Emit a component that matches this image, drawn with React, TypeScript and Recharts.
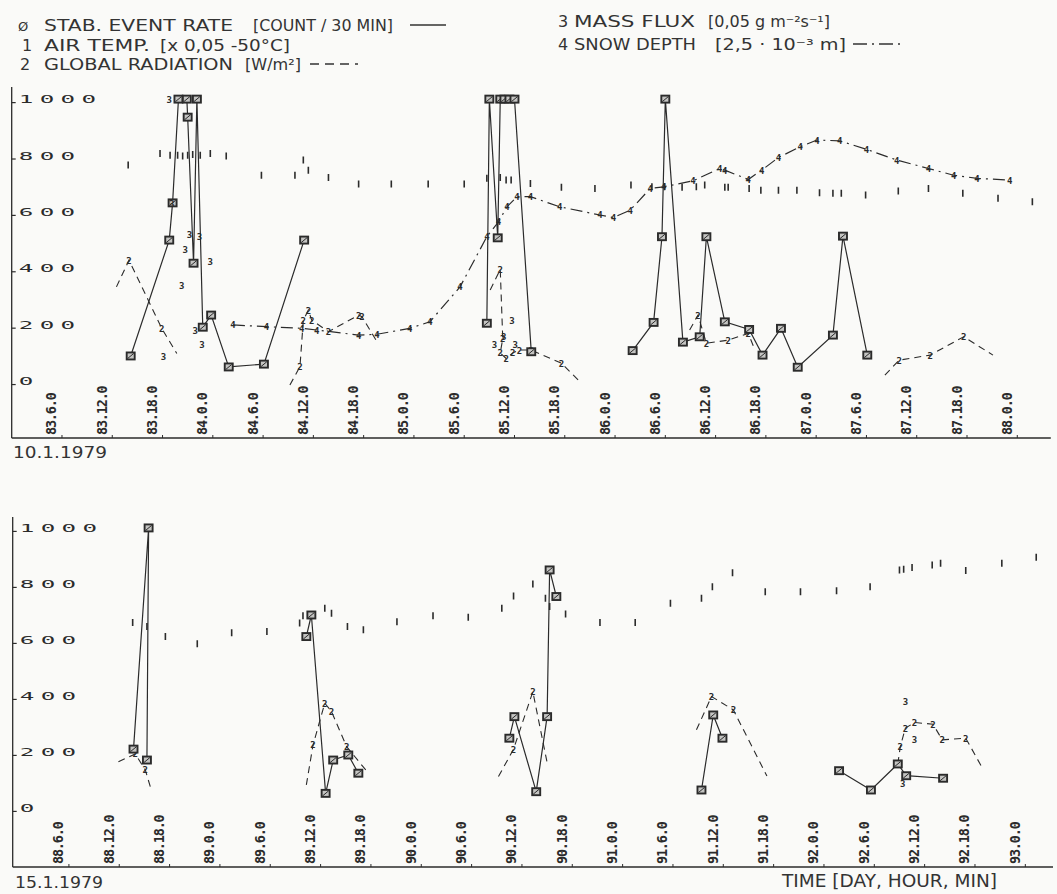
import React from "react";
import { LineChart, Line, XAxis, YAxis } from "recharts";

type Pt = [number, number];

const INK = "#2b2b2b";
const PAPER = "#fafaf8";
const MONO = "'DejaVu Sans Mono', monospace";
const SANS = "'DejaVu Sans', sans-serif";

// hours after the first day shown (day 83 resp. 88, 0:00)
const tickHours = [6, 12, 18, 24, 30, 36, 42, 48, 54, 60, 66, 72, 78, 84, 90, 96, 102, 108, 114, 120];
const topTickLabels = [
  "83.6.0", "83.12.0", "83.18.0", "84.0.0", "84.6.0", "84.12.0", "84.18.0", "85.0.0", "85.6.0", "85.12.0",
  "85.18.0", "86.0.0", "86.6.0", "86.12.0", "86.18.0", "87.0.0", "87.6.0", "87.12.0", "87.18.0", "88.0.0",
];
const bottomTickLabels = [
  "88.6.0", "88.12.0", "88.18.0", "89.0.0", "89.6.0", "89.12.0", "89.18.0", "90.0.0", "90.6.0", "90.12.0",
  "90.18.0", "91.0.0", "91.6.0", "91.12.0", "91.18.0", "92.0.0", "92.6.0", "92.12.0", "92.18.0", "93.0.0",
];
const yTicks = [0, 200, 400, 600, 800, 1000];

// ---- 10.1.1979 ----
const topRate: Pt[][] = [
  [[14.2, 89], [18.8, 500], [19.2, 632], [19.9, 1000], [20.9, 1000], [21.0, 936], [21.7, 418], [22.1, 1000],
    [22.8, 191], [23.8, 234], [25.9, 50], [30.1, 60], [34.9, 500]],
  [[56.7, 205], [57.0, 1000], [58.0, 508], [58.3, 1000], [58.8, 1000], [59.4, 1000], [60.0, 1000], [62.0, 104]],
  [[74.1, 108], [76.6, 208], [77.6, 512], [78.0, 1000], [80.1, 138], [82.1, 157], [82.9, 512], [85.1, 210],
    [88.0, 183], [89.6, 92], [91.8, 187], [93.8, 49], [98.0, 163], [99.2, 514], [102.1, 92]],
];
const topRadiation: Pt[][] = [
  [[12.5, 334], [14.0, 429], [17.9, 187], [19.7, 98]],
  [[33.2, -14], [34.4, 51], [34.8, 216], [35.4, 252], [35.8, 216], [37.8, 175], [41.4, 234], [41.8, 228], [43.7, 134]],
  [[57.1, 323], [58.3, 396], [58.6, 150], [58.3, 100], [59.0, 80], [59.8, 100], [60.6, 110], [62.0, 110], [65.6, 63], [68.0, -8]],
  [[80.9, 181], [81.9, 234], [82.9, 134], [85.5, 145], [87.9, 169], [88.7, 110]],
  [[104.2, 21], [105.9, 74], [109.6, 92], [113.6, 157], [117.1, 92]],
];
const topFlux: Pt[] = [
  [18.8, 1000], [18.1, 86], [19.1, 630], [20.3, 340], [20.7, 465], [21.2, 521], [22.4, 512], [23.7, 423],
  [21.9, 181], [22.7, 131], [57.6, 130], [58.7, 157], [59.7, 216], [60.1, 130],
];
const topTemp: Pt[] = [
  [13.9, 766], [17.7, 807], [18.9, 801], [19.8, 801], [20.4, 798], [21.0, 801], [21.6, 804], [22.5, 801],
  [23.7, 807], [25.6, 798], [29.8, 730], [33.8, 730], [34.8, 784], [35.4, 748], [37.8, 722], [41.4, 699],
  [45.3, 699], [49.7, 699], [54.0, 699], [56.7, 719], [58.3, 722], [59.0, 713], [59.6, 713], [61.9, 701],
  [65.6, 687], [69.6, 683], [73.9, 695], [76.4, 689], [77.9, 689], [80.0, 687], [81.7, 689], [82.7, 695],
  [85.1, 687], [85.5, 687], [88.0, 683], [89.4, 677], [91.5, 677], [93.7, 677], [96.4, 668], [98.0, 666],
  [99.0, 666], [101.9, 660], [105.8, 674], [109.4, 683], [113.5, 666], [117.7, 648], [121.8, 636],
];
const topSnow: Pt[][] = [
  [[26.4, 199], [30.4, 193], [34.6, 187], [36.4, 181], [41.4, 163], [43.6, 166], [47.5, 187], [49.9, 210],
    [53.5, 334], [56.7, 512], [58.1, 565], [59.1, 618], [60.3, 654], [61.9, 654], [65.4, 618], [70.2, 589],
    [71.8, 580], [73.8, 606], [76.2, 683], [77.8, 689], [81.3, 710], [84.5, 754], [85.1, 748], [87.9, 715],
    [89.5, 748], [91.5, 793], [94.1, 831], [96.1, 855], [98.8, 852], [102.0, 822], [105.6, 784], [109.4, 754],
    [112.4, 730], [115.2, 719], [119.1, 713]],
];

// ---- 15.1.1979 ----
const bottomRate: Pt[][] = [
  [[13.7, 210], [15.5, 1000], [15.3, 171]],
  [[34.3, 612], [34.9, 689], [36.6, 52], [37.5, 171], [39.3, 189], [40.5, 124]],
  [[58.5, 249], [59.1, 326], [61.7, 58], [63.0, 326], [63.3, 850], [64.1, 755]],
  [[81.4, 64], [82.8, 332], [83.9, 249]],
  [[97.8, 133], [101.6, 64], [104.8, 157], [105.8, 115], [110.2, 106]],
];
const bottomRadiation: Pt[][] = [
  [[11.9, 165], [13.9, 193], [15.1, 136], [15.7, 76]],
  [[34.3, 82], [35.1, 225], [36.5, 374], [37.3, 344], [39.1, 219], [41.7, 124]],
  [[57.2, 112], [59.0, 210], [61.3, 415], [63.0, 162]],
  [[80.8, 279], [82.6, 398], [85.2, 350], [89.2, 114]],
  [[104.8, 157], [105.1, 219], [105.7, 285], [106.8, 305], [109.0, 299], [110.1, 243], [112.9, 249], [115.0, 136]],
];
const bottomFlux: Pt[] = [[105.7, 380], [106.8, 243], [105.4, 88]];
const bottomTemp: Pt[] = [
  [13.6, 662], [15.3, 648], [17.5, 612], [21.3, 586], [25.4, 626], [29.6, 630], [33.5, 660], [33.9, 686],
  [36.5, 713], [37.3, 695], [39.2, 648], [41.1, 636], [45.1, 665], [49.4, 686], [53.6, 681], [57.6, 713],
  [59.0, 757], [61.3, 800], [62.8, 749], [63.3, 719], [65.2, 693], [69.3, 662], [73.5, 662], [77.7, 731],
  [81.4, 749], [82.7, 790], [85.1, 840], [89.0, 772], [93.2, 772], [97.5, 776], [101.5, 790], [105.0, 850],
  [105.5, 852], [106.5, 859], [108.9, 868], [109.9, 874], [112.9, 848], [117.2, 874], [121.3, 895],
];
const bottomSnow: Pt[][] = [];

const rows = (pts: Pt[]) => pts.map(([h, v]) => ({ h, v }));

const RateMark = (p: any) =>
  p.cx == null ? <g key={p.index} /> : (
    <g key={`r${p.index}`}>
      <rect x={p.cx - 4} y={p.cy - 3.5} width={8} height={7} fill="#c4c4c2" stroke={INK} strokeWidth={1.9} />
      <line x1={p.cx - 3} y1={p.cy + 2.5} x2={p.cx + 3} y2={p.cy - 2.5} stroke={INK} strokeWidth={1} />
    </g>
  );

const TempMark = (p: any) =>
  p.cx == null ? <g key={p.index} /> : (
    <line key={`t${p.index}`} x1={p.cx} x2={p.cx} y1={p.cy - 3.5} y2={p.cy + 3.5} stroke={INK} strokeWidth={1.6} />
  );

const charMark = (ch: string, skipEnds: boolean, len: number) => (p: any) => {
  if (p.cx == null || (skipEnds && (p.index === 0 || p.index === len - 1))) return <g key={`${ch}${p.index}`} />;
  return (
    <text key={`${ch}${p.index}`} x={p.cx} y={p.cy + 3.5} textAnchor="middle" fontFamily={MONO}
      fontWeight="bold" fontSize={9} fill={INK}>{ch}</text>
  );
};

function XTick(props: any) {
  const { x, payload, labels, axisY } = props;
  const label = labels[tickHours.indexOf(payload.value)];
  return (
    <g>
      <line x1={x} x2={x} y1={axisY} y2={axisY - 3} stroke={INK} strokeWidth={1} />
      <text transform={`translate(${x - 5.5}, ${axisY - 3}) rotate(-90)`} fontFamily={MONO} fontWeight="bold"
        fontSize={13.5} letterSpacing={-1.2} fill={INK}>{label}</text>
    </g>
  );
}

function YTick(props: any) {
  const { y, payload, plotLeft } = props;
  return (
    <g>
      <line x1={plotLeft} x2={plotLeft + 4} y1={y + 3.5} y2={y + 3.5} stroke={INK} strokeWidth={1.2} />
      <text transform={`translate(${plotLeft + 7}, ${y + 4}) scale(2.2, 1)`} fontFamily={MONO}
        fontSize={11} letterSpacing={2.9} fill={INK}>{payload.value}</text>
    </g>
  );
}

type PanelProps = {
  top: number;
  height: number;
  margin: { top: number; right: number; bottom: number; left: number };
  xDomain: [number, number];
  yDomain: [number, number];
  tickLabels: string[];
  rate: Pt[][];
  radiation: Pt[][];
  flux: Pt[];
  temp: Pt[];
  snow: Pt[][];
};

function Panel({ top, height, margin, xDomain, yDomain, tickLabels, rate, radiation, flux, temp, snow }: PanelProps) {
  // axes take 1px each, taken off the outer margins so the plot box stays where it was measured
  const axisY = height - margin.bottom;
  const plotLeft = margin.left;
  const m = { top: margin.top, right: margin.right, bottom: margin.bottom - 1, left: margin.left - 1 };
  return (
    <div style={{ position: "absolute", left: 0, top }}>
      <LineChart width={1057} height={height} margin={m}>
        <XAxis dataKey="h" type="number" domain={xDomain} allowDataOverflow ticks={tickHours} interval={0}
          height={1} tickLine={false} axisLine={{ stroke: INK, strokeWidth: 1.3 }}
          tick={(p: any) => <XTick {...p} labels={tickLabels} axisY={axisY} />} />
        <YAxis type="number" domain={yDomain} allowDataOverflow ticks={yTicks} interval={0} width={1}
          tickLine={false} axisLine={{ stroke: INK, strokeWidth: 1.3 }}
          tick={(p: any) => <YTick {...p} plotLeft={plotLeft} />} />
        {snow.map((seg, i) => (
          <Line key={`s${i}`} data={rows(seg)} dataKey="v" stroke={INK} strokeWidth={1.2}
            strokeDasharray="12 5 2 5" dot={charMark("4", false, seg.length)} activeDot={false}
            isAnimationActive={false} />
        ))}
        {radiation.map((seg, i) => (
          <Line key={`g${i}`} data={rows(seg)} dataKey="v" stroke={INK} strokeWidth={1.1}
            strokeDasharray="7 5" dot={charMark("2", true, seg.length)} activeDot={false}
            isAnimationActive={false} />
        ))}
        {rate.map((seg, i) => (
          <Line key={`r${i}`} data={rows(seg)} dataKey="v" stroke={INK} strokeWidth={1.2}
            dot={RateMark} activeDot={false} isAnimationActive={false} />
        ))}
        <Line data={rows(temp)} dataKey="v" stroke="none" dot={TempMark} activeDot={false} isAnimationActive={false} />
        <Line data={rows(flux)} dataKey="v" stroke="none" dot={charMark("3", false, flux.length)}
          activeDot={false} isAnimationActive={false} />
      </LineChart>
    </div>
  );
}

function Legend() {
  const t = { fontFamily: SANS, fontSize: 16, fill: "#333" } as const;
  return (
    <svg width={1057} height={894} style={{ position: "absolute", left: 0, top: 0 }}>
      <text x={18} y={31} {...t} fontSize={13}>Ø</text>
      <text x={44} y={31} {...t} textLength={189} lengthAdjust="spacingAndGlyphs">STAB. EVENT RATE</text>
      <text x={253} y={31} {...t} textLength={140} lengthAdjust="spacingAndGlyphs">[COUNT / 30 MIN]</text>
      <line x1={410} x2={446} y1={25} y2={25} stroke="#333" strokeWidth={1.3} />

      <text x={22} y={51} {...t}>1</text>
      <text x={44} y={51} {...t} textLength={106} lengthAdjust="spacingAndGlyphs">AIR TEMP.</text>
      <text x={160} y={51} {...t} textLength={130} lengthAdjust="spacingAndGlyphs">[x 0,05  -50°C]</text>

      <text x={20} y={70} {...t}>2</text>
      <text x={44} y={70} {...t} textLength={189} lengthAdjust="spacingAndGlyphs">GLOBAL RADIATION</text>
      <text x={245} y={70} {...t} textLength={56} lengthAdjust="spacingAndGlyphs">[W/m²]</text>
      <line x1={310} x2={358} y1={64} y2={64} stroke="#333" strokeWidth={1.3} strokeDasharray="9 6" />

      <text x={558} y={27} {...t}>3</text>
      <text x={574} y={27} {...t} textLength={121} lengthAdjust="spacingAndGlyphs">MASS FLUX</text>
      <text x={708} y={27} {...t} textLength={122} lengthAdjust="spacingAndGlyphs">[0,05 g m⁻²s⁻¹]</text>

      <text x={558} y={50} {...t}>4</text>
      <text x={574} y={50} {...t} textLength={122} lengthAdjust="spacingAndGlyphs">SNOW DEPTH</text>
      <text x={715} y={50} {...t} textLength={131} lengthAdjust="spacingAndGlyphs">[2,5 · 10⁻³ m]</text>
      <line x1={853} x2={904} y1={44} y2={44} stroke="#333" strokeWidth={1.3} strokeDasharray="14 5 2 5" />

      <text x={13} y={458} {...t} textLength={94} lengthAdjust="spacingAndGlyphs">10.1.1979</text>
      <text x={15} y={888} {...t} textLength={88} lengthAdjust="spacingAndGlyphs">15.1.1979</text>
      <text x={782} y={887} {...t} fontSize={18} textLength={215} lengthAdjust="spacingAndGlyphs">TIME [DAY, HOUR, MIN]</text>
    </svg>
  );
}

export default function App() {
  return (
    <div style={{ position: "absolute", left: 0, top: 0, width: 1057, height: 894, background: PAPER, overflow: "hidden" }}>
      <Legend />
      <Panel top={0} height={460} margin={{ top: 87, right: 6.2, bottom: 22, left: 11.7 }}
        xDomain={[0, 124]} yDomain={[-202, 1043]} tickLabels={topTickLabels}
        rate={topRate} radiation={topRadiation} flux={topFlux} temp={topTemp} snow={topSnow} />
      <Panel top={470} height={424} margin={{ top: 47, right: 4, bottom: 27, left: 12.7 }}
        xDomain={[-0.7, 123.3]} yDomain={[-211, 1039]} tickLabels={bottomTickLabels}
        rate={bottomRate} radiation={bottomRadiation} flux={bottomFlux} temp={bottomTemp} snow={bottomSnow} />
    </div>
  );
}
